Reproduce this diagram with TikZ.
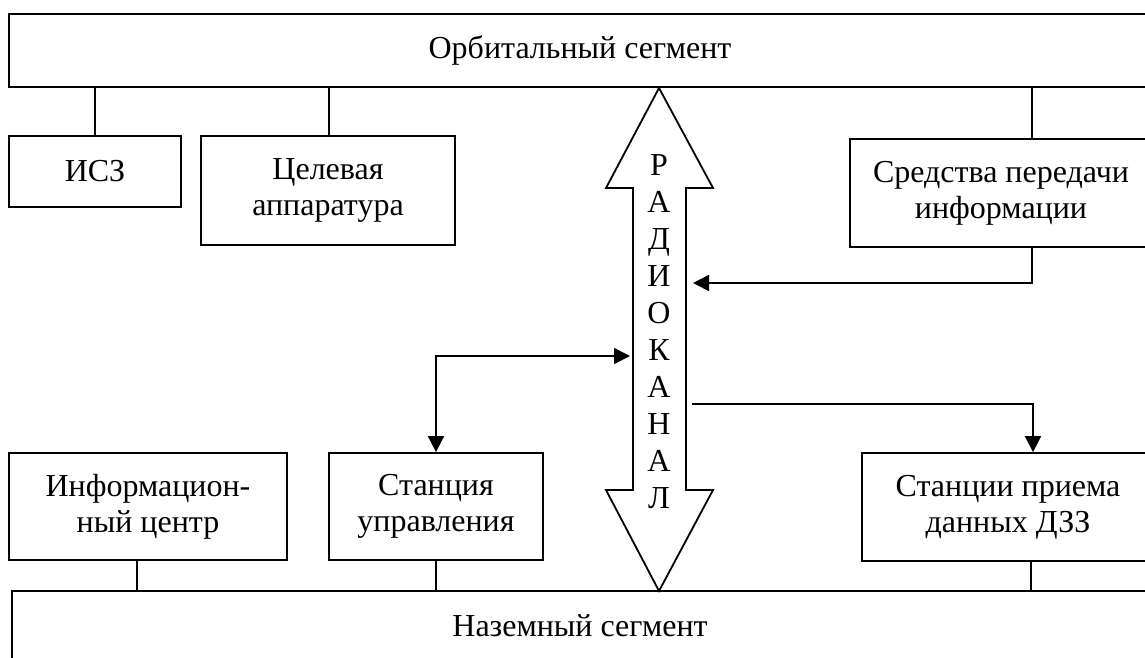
\documentclass[tikz,border=0pt]{standalone}
\usepackage{fontspec}
\setmainfont{Liberation Serif}
\usetikzlibrary{arrows.meta}
\begin{document}
\begin{tikzpicture}[x=1pt,y=-1pt,
  box/.style={draw, line width=1.8pt, inner sep=0pt, align=center,
    font=\fontsize{32}{36}\selectfont},
  link/.style={line width=1.7pt},
  tip/.style={Triangle[length=16pt,width=16pt]},
  arr/.style={line width=1.7pt, -{Triangle[length=16pt,width=16pt]}},
  darr/.style={line width=1.7pt,
    {Triangle[length=16pt,width=16pt]}-{Triangle[length=16pt,width=16pt]}},
  letter/.style={font=\fontsize{32}{35}\selectfont, inner sep=0pt, anchor=base},
  channel/.style={line width=1.8pt, fill=white, line join=miter}
]
\useasboundingbox (0,0) rectangle (1145,657);
\fill[white] (0,0) rectangle (1145,657);
\clip (0,0) rectangle (1145,657);

% segments
\node[box, minimum width=1142pt, minimum height=73pt] (orb) at (580,50.5) {Орбитальный сегмент};
\node[box, minimum width=1136pt, minimum height=70pt] (ground) at (580,626) {Наземный сегмент};

% orbital equipment
\node[box, minimum width=172pt, minimum height=71pt] (isz) at (95,171.5) {ИСЗ};
\node[box, minimum width=254pt, minimum height=109pt] (tsel) at (328,190.5) {Целевая\\аппаратура};
\node[box, minimum width=302pt, minimum height=108pt] (sred) at (1001,193) {Средства передачи\\информации};

% ground equipment
\node[box, minimum width=278pt, minimum height=107pt] (info) at (148,506.5) {Информацион-\\ный центр};
\node[box, minimum width=214pt, minimum height=107pt] (upr) at (436,506.5) {Станция\\управления};
\node[box, minimum width=292pt, minimum height=108pt] (priem) at (1008,507) {Станции приема\\данных ДЗЗ};

% radio channel: double-headed block arrow
\draw[channel] (659,88) -- (713,188) -- (686,188) -- (686,490) -- (713,490)
  -- (659,591) -- (606,490) -- (633,490) -- (633,188) -- (606,188) -- cycle;
\foreach \ch [count=\k from 0] in {Р,А,Д,И,О,К,А,Н,А,Л}
  \node[letter] (ch\k) at (659,175+37*\k) {\ch};

\coordinate (in1) at (693,283);
\coordinate (in2) at (630,356);
\coordinate (out3) at (692,404);

% tree links
\draw[link] (isz.north) -- (isz.north |- orb.south);
\draw[link] ([xshift=1pt]tsel.north) -- ([xshift=1pt]tsel.north |- orb.south);
\draw[link] ([xshift=31pt]sred.north) -- ([xshift=31pt]sred.north |- orb.south);
\draw[link] ([xshift=-11pt]info.south) -- ([xshift=-11pt]info.south |- ground.north);
\draw[link] (upr.south) -- (upr.south |- ground.north);
\draw[link] ([xshift=23pt]priem.south) -- ([xshift=23pt]priem.south |- ground.north);

% data flows
\draw[arr] ([xshift=31pt]sred.south) |- (in1);
\draw[darr] (in2) -| (upr.north);
\draw[arr] (out3) -| ([xshift=25pt]priem.north);
\end{tikzpicture}
\end{document}
